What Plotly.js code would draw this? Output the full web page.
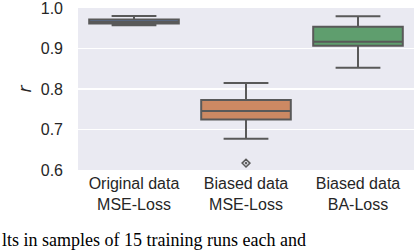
<!DOCTYPE html>
<html>
<head>
<meta charset="utf-8">
<script src="https://cdn.plot.ly/plotly-3.0.1.min.js"></script>
<style>html,body{margin:0;padding:0;background:#fff;}#chart{width:414px;height:252px;}</style>
</head>
<body>
<div id="chart"></div>
<script>
const categories = ["Original data<br>MSE-Loss", "Biased data<br>MSE-Loss", "Biased data<br>BA-Loss"];
const lowerWhisker = [0.958, 0.677, 0.853];
const q1Values = [0.962, 0.725, 0.907];
const medianValues = [0.966, 0.746, 0.917];
const q3Values = [0.972, 0.773, 0.954];
const upperWhisker = [0.981, 0.815, 0.980];
const outlierCategory = ["Biased data<br>MSE-Loss"];
const outlierValues = [0.617];
const yTicks = [0.6, 0.7, 0.8, 0.9, 1.0];
const yTickText = ["0.6", "0.7", "0.8", "0.9", "1.0"];
const boxColors = ["#5975a4", "#cc8963", "#5f9e6e"];
const lineGray = "#595959";

const traces = categories.map((c, i) => ({
  type: "box",
  x: [c],
  q1: [q1Values[i]],
  median: [medianValues[i]],
  q3: [q3Values[i]],
  lowerfence: [lowerWhisker[i]],
  upperfence: [upperWhisker[i]],
  fillcolor: boxColors[i],
  line: {color: lineGray, width: 2},
  width: 0.8,
  whiskerwidth: 0.5,
  showlegend: false,
  hoverinfo: "skip"
}));
traces.push({
  type: "scatter",
  mode: "markers",
  x: outlierCategory,
  y: outlierValues,
  marker: {symbol: "diamond-open-dot", size: 6, color: lineGray, line: {width: 1.5, color: lineGray}},
  showlegend: false,
  hoverinfo: "skip"
});

const layout = {
  width: 414,
  height: 252,
  margin: {l: 78, r: 0, t: 8, b: 82},
  paper_bgcolor: "#ffffff",
  plot_bgcolor: "#eaeaf2",
  font: {family: "Liberation Sans, Arial, sans-serif", color: "#262626", size: 16},
  xaxis: {
    type: "category",
    categoryorder: "array",
    categoryarray: categories,
    range: [-0.5, 2.5],
    showgrid: false,
    zeroline: false,
    showline: false,
    ticks: "",
    ticklabelstandoff: 2,
    tickfont: {size: 16, color: "#262626"}
  },
  yaxis: {
    range: [0.6, 1.0005],
    tickvals: yTicks,
    ticktext: yTickText,
    ticklabeloverflow: "allow",
    showgrid: true,
    gridcolor: "#ffffff",
    gridwidth: 1.5,
    zeroline: false,
    showline: false,
    ticks: "",
    ticklabelstandoff: 14,
    tickfont: {size: 16, color: "#262626"},
    title: {text: "<i>r</i>", font: {size: 17, family: "DejaVu Sans, sans-serif", color: "#262626"}, standoff: 4}
  },
  annotations: [{
    text: "lts in samples of 15 training runs each and",
    xref: "paper", yref: "paper",
    x: -0.232, y: -0.505,
    xanchor: "left", yanchor: "bottom",
    showarrow: false,
    font: {family: "Liberation Serif, Times New Roman, serif", size: 18, color: "#000"}
  }]
};

Plotly.newPlot("chart", traces, layout, {staticPlot: true, displayModeBar: false});
</script>
</body>
</html>
